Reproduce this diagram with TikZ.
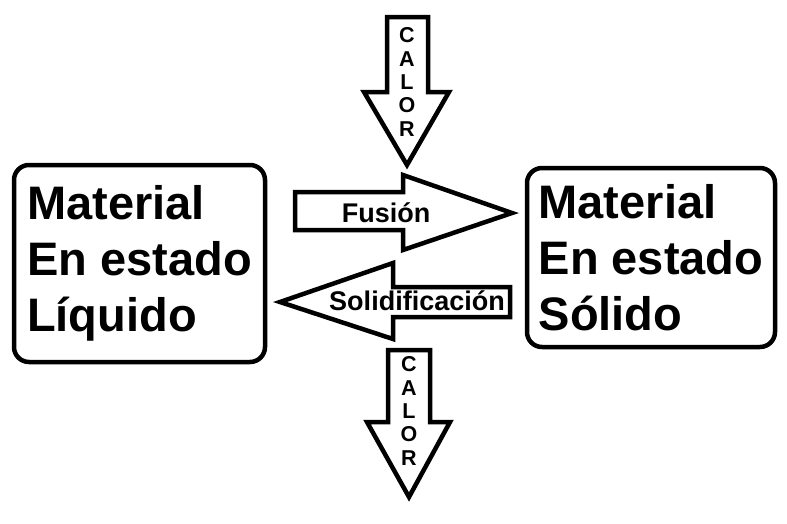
\documentclass[tikz,border=0pt]{standalone}
\usepackage{fontspec}
\setmainfont{Liberation Sans}
\usetikzlibrary{positioning}
\tikzset{
    estado/.style={draw=black, line width=4.5pt, rounded corners=15pt, align=left,
        font=\bfseries\fontsize{47}{56}\selectfont, inner sep=0pt},
    flecha/.style={draw=black, line width=4.5pt, fill=white, line join=miter},
    rotulo/.style={font=\bfseries\fontsize{27}{30}\selectfont, inner sep=0pt},
    calor/.style={font=\bfseries\fontsize{21.5}{23.3}\selectfont, align=center, inner sep=0pt}
}

\begin{document}
\begin{tikzpicture}[x=1pt, y=-1pt]
    \useasboundingbox[fill=white] (0,0) rectangle (787,523);

    \node[estado, minimum width=251pt, minimum height=197pt] (LIQ) at (139.5, 263.5) {Material\\En estado\\Líquido};
    \node[estado, minimum width=248pt, minimum height=179pt] (SOL) at (651, 257.5) {Material\\En estado\\Sólido};

    % fusion
    \draw[flecha] (295,192) -- (403,192) -- (403,175) -- (512,213) -- (403,250) -- (403,230) -- (295,230) -- cycle;
    \node[rotulo] (FUS) at (386, 213) {Fusión};

    % solidificacion
    \draw[flecha] (510,287) -- (393,287) -- (393,263) -- (280,302) -- (393,339) -- (393,317) -- (510,317) -- cycle;
    \node[rotulo] (SOLID) at (417, 301) {Solidificación};

    % calor
    \draw[flecha] (387,17) -- (428,17) -- (428,92) -- (449,92) -- (407,165) -- (364,92) -- (387,92) -- cycle;
    \node[calor] (CALOR1) at (407, 82) {C\\A\\L\\O\\R};

    \draw[flecha] (388,350) -- (430,350) -- (430,422) -- (450,422) -- (409,497) -- (367,422) -- (388,422) -- cycle;
    \node[calor] (CALOR2) at (409, 411) {C\\A\\L\\O\\R};
\end{tikzpicture}
\end{document}
